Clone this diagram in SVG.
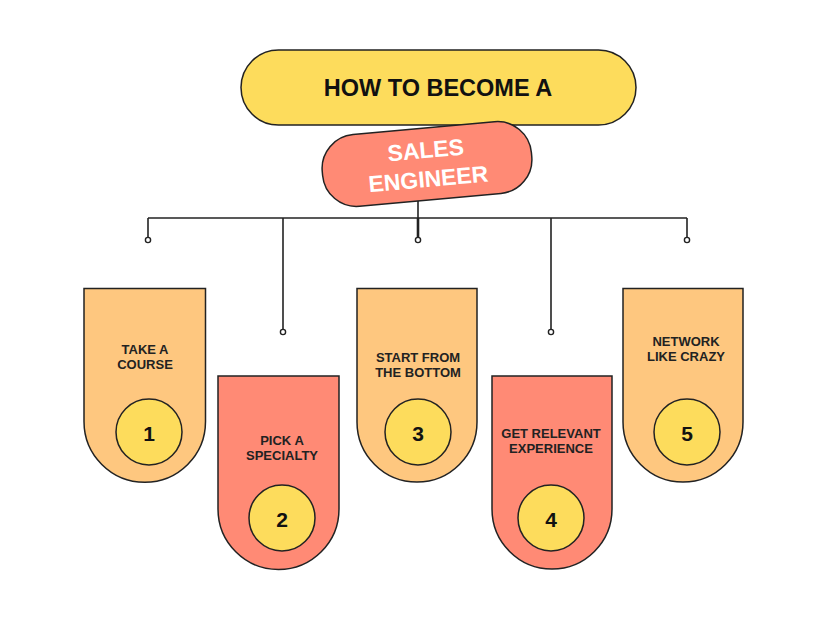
<svg xmlns="http://www.w3.org/2000/svg" width="828" height="621" viewBox="0 0 828 621">
<style>
.card{stroke:#222;stroke-width:1.5}
.orange{fill:#FEC77F}
.red{fill:#FF8A75}
.num{fill:#FDDC5C;stroke:#222;stroke-width:1.5}
.lbl{font-family:"Liberation Sans",Arial,sans-serif;font-weight:bold;font-size:13px;fill:#222;text-anchor:middle}
.n{font-family:"Liberation Sans",Arial,sans-serif;font-weight:bold;font-size:21px;fill:#111;text-anchor:middle}
.conn{stroke:#222;stroke-width:1.6;fill:none}
.dot{fill:#fff;stroke:#222;stroke-width:1.4}
</style>
<rect width="828" height="621" fill="#fff"/>
<g id="connectors">
<line class="conn" x1="148" y1="218" x2="687" y2="218"/>
<line class="conn" x1="418" y1="200" x2="418" y2="237"/>
<line x1="418" y1="218" x2="418" y2="237" stroke="#222" stroke-width="2.6"/>
<line class="conn" x1="148" y1="218" x2="148" y2="237.5"/>
<line class="conn" x1="283" y1="218" x2="283" y2="329.5"/>
<line class="conn" x1="551" y1="218" x2="551" y2="329.5"/>
<line class="conn" x1="687" y1="218" x2="687" y2="237.5"/>
<circle class="dot" cx="148" cy="240" r="2.6"/>
<circle class="dot" cx="418" cy="240" r="2.6"/>
<circle class="dot" cx="687" cy="240" r="2.6"/>
<circle class="dot" cx="283" cy="332" r="2.6"/>
<circle class="dot" cx="551" cy="332" r="2.6"/>
</g>
<g id="title">
<rect x="241" y="50" width="395" height="75" rx="37.5" fill="#FDDC5C" stroke="#222" stroke-width="1.5"/>
<text x="438" y="95.5" font-family="'Liberation Sans',Arial,sans-serif" font-weight="bold" font-size="23.5" fill="#111" text-anchor="middle">HOW TO BECOME A</text>
</g>
<g id="subtitle" transform="rotate(-5.2 427 164)">
<rect x="322" y="128" width="210" height="72" rx="34" fill="#FF8A75" stroke="#222" stroke-width="1.5"/>
<text x="427" y="158" font-family="'Liberation Sans',Arial,sans-serif" font-weight="bold" font-size="23" fill="#fff" text-anchor="middle">SALES</text>
<text x="427" y="187" font-family="'Liberation Sans',Arial,sans-serif" font-weight="bold" font-size="23" fill="#fff" text-anchor="middle">ENGINEER</text>
</g>
<g id="step1">
<path class="card orange" d="M84 288.5H205.5V421.5A60.75 60.75 0 0 1 84 421.5Z"/>
<text class="lbl" x="145" y="354">TAKE A</text>
<text class="lbl" x="145" y="369">COURSE</text>
<circle class="num" cx="149" cy="432" r="33"/>
<text class="n" x="149" y="441">1</text>
</g>
<g id="step2">
<path class="card red" d="M218 376H339V509A60.5 60.5 0 0 1 218 509Z"/>
<text class="lbl" x="282" y="445">PICK A</text>
<text class="lbl" x="282" y="460">SPECIALTY</text>
<circle class="num" cx="282" cy="518" r="33"/>
<text class="n" x="282" y="527">2</text>
</g>
<g id="step3">
<path class="card orange" d="M357 288.5H477V422A60 60 0 0 1 357 422Z"/>
<text class="lbl" x="418" y="362">START FROM</text>
<text class="lbl" x="418" y="377">THE BOTTOM</text>
<circle class="num" cx="418" cy="432" r="33"/>
<text class="n" x="418" y="441">3</text>
</g>
<g id="step4">
<path class="card red" d="M492 376H612V509A60 60 0 0 1 492 509Z"/>
<text class="lbl" x="551" y="438">GET RELEVANT</text>
<text class="lbl" x="551" y="453">EXPERIENCE</text>
<circle class="num" cx="551" cy="518" r="33"/>
<text class="n" x="551" y="527">4</text>
</g>
<g id="step5">
<path class="card orange" d="M623 288.5H743V422A60 60 0 0 1 623 422Z"/>
<text class="lbl" x="686" y="346">NETWORK</text>
<text class="lbl" x="686" y="361">LIKE CRAZY</text>
<circle class="num" cx="687" cy="432" r="33"/>
<text class="n" x="687" y="441">5</text>
</g>
</svg>
